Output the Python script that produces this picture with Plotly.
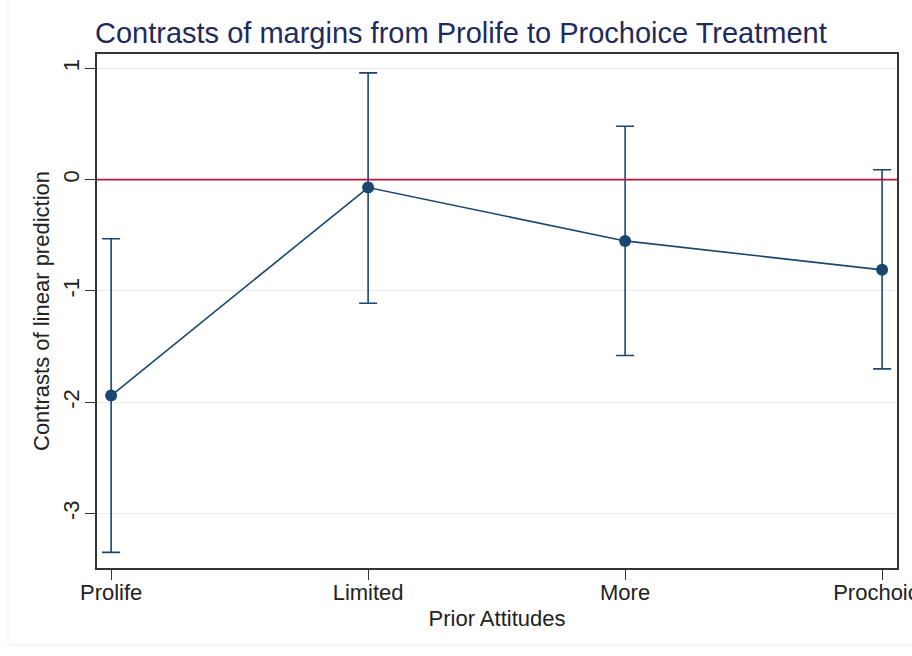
import plotly.graph_objects as go

categories = ["Prolife", "Limited", "More", "Prochoice"]
estimates = [-1.94, -0.07, -0.55, -0.81]
upper_ci = [-0.53, 0.96, 0.48, 0.09]
lower_ci = [-3.35, -1.11, -1.58, -1.70]
y_ticks = [1, 0, -1, -2, -3]

xpos = list(range(len(categories)))
err_plus = [u - e for u, e in zip(upper_ci, estimates)]
err_minus = [e - l for e, l in zip(estimates, lower_ci)]

navy = "#1a476f"
W, H = 912, 656
L, R, T, B = 97, 15, 54, 88

fig = go.Figure()
fig.add_trace(go.Scatter(
    x=xpos, y=estimates, mode="lines+markers",
    line=dict(color=navy, width=1.6),
    marker=dict(color=navy, size=12),
    error_y=dict(type="data", symmetric=False, array=err_plus, arrayminus=err_minus,
                 color=navy, thickness=1.6, width=9),
    showlegend=False,
))

fig.update_layout(
    width=W, height=H,
    margin=dict(l=L, r=R, t=T, b=B),
    paper_bgcolor="white", plot_bgcolor="white",
    font=dict(family="Liberation Sans, Arial, sans-serif", color="#222222", size=22),
    title=dict(text="Contrasts of margins from Prolife to Prochoice Treatment",
               x=95 / W, xanchor="left", xref="container",
               y=1 - 33 / H, yanchor="middle", yref="container",
               font=dict(size=29, color="#1e2b5c")),
    xaxis=dict(
        range=[-0.055, 3.058], tickvals=xpos, ticktext=categories,
        ticks="outside", ticklen=10, tickcolor="#333333", tickwidth=1,
        showgrid=False, zeroline=False,
        showline=True, linecolor="#333333", linewidth=1.5, mirror=True,
        ticklabeloverflow="allow", automargin=False,
        ticklabelstandoff=-6,
        title=dict(text="Prior Attitudes", standoff=6, font=dict(size=22)),
        tickfont=dict(size=22),
    ),
    yaxis=dict(
        range=[-3.49, 1.13], tickvals=y_ticks, ticktext=[str(v) for v in y_ticks],
        tickangle=-90, automargin=False,
        ticks="outside", ticklen=10, tickcolor="#333333", tickwidth=1,
        ticklabelstandoff=-3,
        showgrid=True, gridcolor="#ececec", gridwidth=1, zeroline=False,
        showline=True, linecolor="#333333", linewidth=1.5, mirror=True,
        title=dict(text="Contrasts of linear prediction", standoff=4, font=dict(size=22)),
        tickfont=dict(size=22),
    ),
    shapes=[
        dict(type="rect", xref="paper", yref="paper",
             x0=(8 - L) / (W - L - R), x1=(W + 20 - L) / (W - L - R),
             y0=(H - B - 645) / (H - T - B), y1=(H - B + 20) / (H - T - B),
             line=dict(color="#eeeeee", width=1), layer="below"),
        dict(type="line", xref="paper", yref="y", x0=0, x1=1, y0=0, y1=0,
             line=dict(color="#b5173f", width=1.8), layer="above"),
    ],
)

fig.write_html("out.html")
